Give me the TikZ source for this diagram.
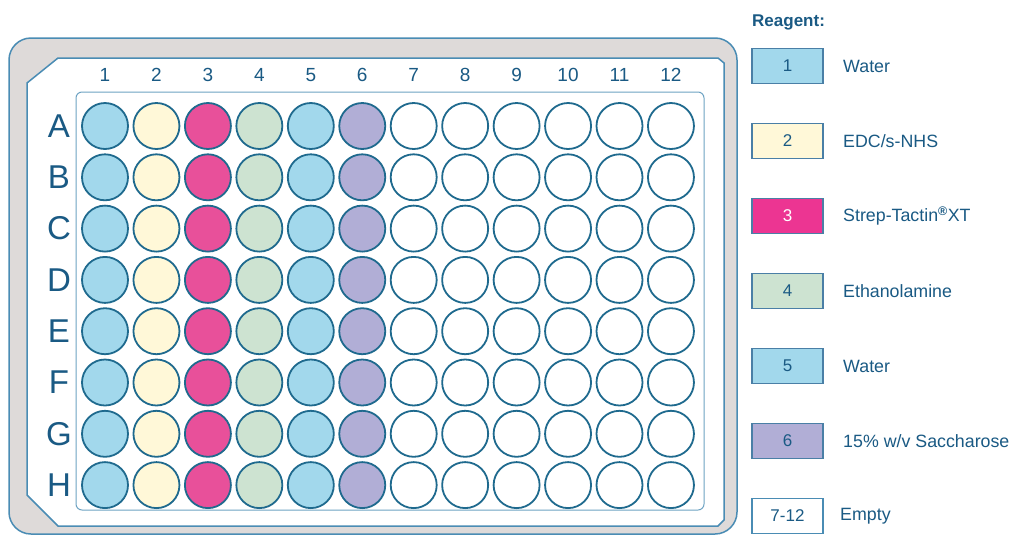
\documentclass[tikz,border=0pt]{standalone}
\usepackage{fontspec}
\setmainfont{Liberation Sans}
\begin{document}
\begin{tikzpicture}[x=1pt,y=-1pt,
  wellline/.style={draw=wellblue,line width=1.8pt},
  well/.style={circle,wellline,minimum size=46pt,inner sep=0pt},
  collab/.style={text=txtblue,font=\fontsize{19}{21}\selectfont},
  rowlab/.style={text=txtblue,font=\fontsize{33}{35}\selectfont},
  legbox/.style={draw=boxblue,line width=1.3pt,minimum width=71pt,minimum height=35pt,inner sep=0pt,text=txtblue,font=\fontsize{17}{19}\selectfont},
  legtext/.style={anchor=west,text=txtblue,font=\fontsize{17.8}{19}\selectfont,inner sep=0pt}]
\definecolor{wellblue}{HTML}{1F6A8E}
\definecolor{txtblue}{HTML}{1A5A84}
\definecolor{boxblue}{HTML}{4A7FA6}
\definecolor{platefill}{HTML}{DEDAD9}
\definecolor{plateline}{HTML}{4A8CB4}
\definecolor{cA}{HTML}{A2D8EC}
\definecolor{cB}{HTML}{FFF8D8}
\definecolor{cC}{HTML}{E8509A}
\definecolor{cCleg}{HTML}{EC3592}
\definecolor{cD}{HTML}{CDE3D1}
\definecolor{cE}{HTML}{B1AED6}
\useasboundingbox (0,0) rectangle (1011,536);
\fill[white] (0,0) rectangle (1011,536);
% plate
\draw[plateline,line width=1.5pt,fill=platefill,rounded corners=22pt] (9,38) rectangle (737,534);
\draw[plateline,line width=1.5pt,fill=white] (27,83) -- (58,58) -- (718,58) -- (724,63) -- (724,520) -- (718,526) -- (58,526) -- (27,495) -- cycle;
\draw[plateline!80,line width=1pt,rounded corners=6pt] (76,92) rectangle (704,510);
% labels
\foreach \c in {1,...,12} {
  \node[collab] (col\c) at ({105+51.45*(\c-1)},75) {\c};
}
\foreach \r [count=\i from 0] in {A,B,C,D,E,F,G,H} {
  \node[rowlab] (row\r) at (59,{126+51.3*\i}) {\r};
}
% wells
\foreach \r [count=\i from 0] in {A,B,C,D,E,F,G,H} {
  \foreach \c/\f in {1/cA,2/cB,3/cC,4/cD,5/cA,6/cE,7/white,8/white,9/white,10/white,11/white,12/white} {
    \node[well,fill=\f] (w\r\c) at ({105+51.45*(\c-1)},{126+51.3*\i}) {};
  }
}
% legend
\node[anchor=west,text=txtblue,font=\bfseries\fontsize{17}{19}\selectfont,inner sep=0pt] (reagent) at (752,22) {Reagent:};
\node[legbox,fill=cA] (l1) at (787.5,66) {1};
\node[legtext] (t1) at (843,66) {Water};
\node[legbox,fill=cB] (l2) at (787.5,141) {2};
\node[legtext] (t2) at (843,141) {EDC/s-NHS};
\node[legbox,fill=cCleg,text=white] (l3) at (787.5,216) {3};
\node[legtext] (t3) at (843,216) {Strep-Tactin\textsuperscript{\textbf{®}}XT};
\node[legbox,fill=cD] (l4) at (787.5,291) {4};
\node[legtext] (t4) at (843,291) {Ethanolamine};
\node[legbox,fill=cA] (l5) at (787.5,366) {5};
\node[legtext] (t5) at (843,366) {Water};
\node[legbox,fill=cE] (l6) at (787.5,441) {6};
\node[legtext] (t6) at (843,441) {15\% w/v Saccharose};
\node[legbox,fill=white,draw=plateline] (l7) at (787.5,516) {7-12};
\node[legtext] (t7) at (840,516) {Empty};
\end{tikzpicture}
\end{document}
